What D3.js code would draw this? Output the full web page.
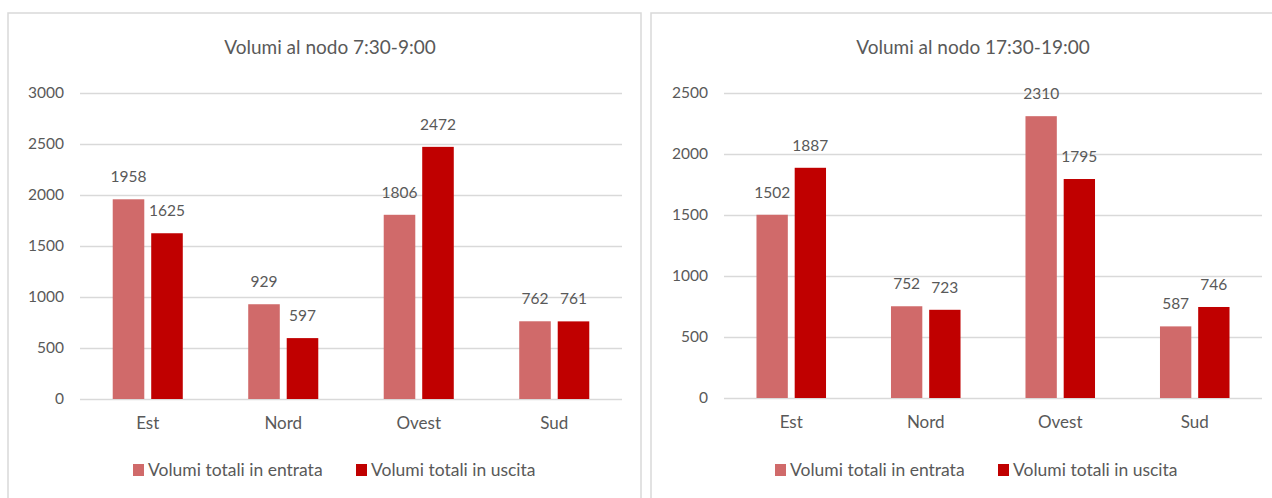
<!DOCTYPE html>
<html>
<head>
<meta charset="utf-8">
<script src="https://cdn.jsdelivr.net/npm/d3@7"></script>
<style>
  html, body { margin: 0; padding: 0; background: #fff; }
  svg { display: block; }
  text { font-family: Lato, "Open Sans", sans-serif; fill: #595959; }
</style>
</head>
<body>
<svg id="chart" width="1272" height="498"></svg>
<script>
const categories = ["Est", "Nord", "Ovest", "Sud"];
const seriesNames = ["Volumi totali in entrata", "Volumi totali in uscita"];
const seriesColors = ["#D06A6A", "#C00000"];

const morningTitle = "Volumi al nodo 7:30-9:00";
const morningEntrata = [1958, 929, 1806, 762];
const morningUscita = [1625, 597, 2472, 761];
const morningTicks = [0, 500, 1000, 1500, 2000, 2500, 3000];

const eveningTitle = "Volumi al nodo 17:30-19:00";
const eveningEntrata = [1502, 752, 2310, 587];
const eveningUscita = [1887, 723, 1795, 746];
const eveningTicks = [0, 500, 1000, 1500, 2000, 2500];

const svg = d3.select("#chart");

function drawPanel(opt) {
  const g = svg.append("g");
  g.append("rect")
    .attr("x", opt.box[0]).attr("y", opt.box[1])
    .attr("width", opt.box[2]).attr("height", opt.box[3])
    .attr("fill", "#fff").attr("stroke", "#D9D9D9").attr("stroke-width", 1.5);

  const yMax = opt.ticks[opt.ticks.length - 1];
  const y = d3.scaleLinear().domain([0, yMax]).range([opt.plot.bottom, opt.plot.top]);
  const x0 = d3.scaleBand().domain(categories)
    .range([opt.plot.left, opt.plot.right])
    .paddingInner(0.483).paddingOuter(0.2415);
  const x1 = d3.scaleBand().domain([0, 1]).range([0, x0.bandwidth()]).paddingInner(0.18);

  g.append("g").selectAll("line").data(opt.ticks).join("line")
    .attr("x1", opt.plot.left).attr("x2", opt.plot.right)
    .attr("y1", d => Math.round(y(d)) + 0.5).attr("y2", d => Math.round(y(d)) + 0.5)
    .attr("stroke", "#D9D9D9").attr("stroke-width", 1.3);

  const yAxis = d3.axisLeft(y).tickValues(opt.ticks).tickFormat(d3.format("d")).tickSize(0).tickPadding(0);
  const ya = g.append("g").attr("transform", `translate(${opt.plot.left - 16},0)`).call(yAxis);
  ya.select(".domain").remove();
  ya.selectAll("text").style("font-size", "15.5px").attr("fill", "#595959")
    .style("font-family", "Lato, sans-serif");

  const xAxis = d3.axisBottom(x0).tickSize(0).tickPadding(0);
  const xa = g.append("g").attr("transform", `translate(0,${opt.plot.bottom + 18})`).call(xAxis);
  xa.select(".domain").remove();
  xa.selectAll("text").style("font-size", "17px").attr("fill", "#595959")
    .style("font-family", "Lato, sans-serif");

  const series = [opt.entrata, opt.uscita];
  series.forEach((vals, si) => {
    const bars = g.append("g");
    bars.selectAll("rect").data(vals).join("rect")
      .attr("x", (d, i) => x0(categories[i]) + x1(si))
      .attr("width", x1.bandwidth())
      .attr("y", d => y(d))
      .attr("height", d => y(0) - y(d))
      .attr("fill", seriesColors[si]);
    bars.selectAll("text").data(vals).join("text")
      .attr("x", (d, i) => x0(categories[i]) + x1(si) + x1.bandwidth() / 2)
      .attr("y", d => y(d) - 17)
      .attr("text-anchor", "middle")
      .style("font-size", "15.5px")
      .text(d => d);
  });

  g.append("text").attr("x", opt.titleX).attr("y", 54)
    .attr("text-anchor", "middle").style("font-size", "19px").text(opt.title);

  const lg = g.append("g").attr("transform", `translate(${opt.legendX},0)`);
  const offsets = [0, 223];
  seriesNames.forEach((name, i) => {
    lg.append("rect").attr("x", offsets[i]).attr("y", 464).attr("width", 11).attr("height", 12)
      .attr("fill", seriesColors[i]);
    lg.append("text").attr("x", offsets[i] + 15).attr("y", 476)
      .style("font-size", "17.5px").text(name);
  });
}

drawPanel({
  box: [8, 13, 633, 500],
  plot: { left: 80, right: 622, top: 93, bottom: 399 },
  ticks: morningTicks,
  entrata: morningEntrata, uscita: morningUscita,
  title: morningTitle, titleX: 330, legendX: 133
});

drawPanel({
  box: [651, 13, 650, 500],
  plot: { left: 724, right: 1262, top: 93, bottom: 398 },
  ticks: eveningTicks,
  entrata: eveningEntrata, uscita: eveningUscita,
  title: eveningTitle, titleX: 973, legendX: 775
});
</script>
</body>
</html>
